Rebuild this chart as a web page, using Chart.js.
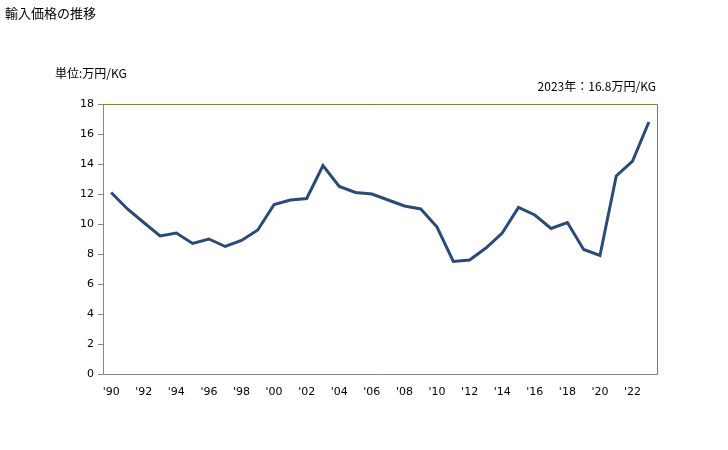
<!DOCTYPE html>
<html>
<head>
<meta charset="utf-8">
<script src="https://cdn.jsdelivr.net/npm/chart.js@4/dist/chart.umd.min.js"></script>
<style>
  html, body { margin: 0; padding: 0; background: #fff; }
  #wrap { position: relative; width: 728px; height: 450px; }
  canvas { position: absolute; left: 0; top: 0; }
  .txt { position: absolute; font-family: 'Noto Sans CJK JP', sans-serif; font-size: 12px; color: #000; white-space: nowrap; }
</style>
</head>
<body>
<div id="wrap">
  <canvas id="c" width="728" height="450"></canvas>
  <div class="txt" style="left:5px; top:3px; font-size:13px;">輸入価格の推移</div>
  <div class="txt" style="left:55px; top:64px;">単位:万円/KG</div>
  <div class="txt" style="right:72px; top:77px;">2023年：16.8万円/KG</div>
</div>
<script>
var years = [1990, 1991, 1992, 1993, 1994, 1995, 1996, 1997, 1998, 1999,
  2000, 2001, 2002, 2003, 2004, 2005, 2006, 2007, 2008, 2009,
  2010, 2011, 2012, 2013, 2014, 2015, 2016, 2017, 2018, 2019,
  2020, 2021, 2022, 2023];
var prices = [12.1, 11.0, 10.1, 9.2, 9.4, 8.7, 9.0, 8.5, 8.9, 9.6,
  11.3, 11.6, 11.7, 13.9, 12.5, 12.1, 12.0, 11.6, 11.2, 11.0,
  9.8, 7.5, 7.6, 8.4, 9.4, 11.1, 10.6, 9.7, 10.1, 8.3,
  7.9, 13.2, 14.2, 16.8];
var yTicks = [0, 2, 4, 6, 8, 10, 12, 14, 16, 18];

var frame = {
  id: 'frame',
  afterDraw: function(chart) {
    var a = chart.chartArea, ctx = chart.ctx;
    ctx.save();
    ctx.strokeStyle = '#8c7d3c';
    ctx.lineWidth = 1;
    ctx.beginPath();
    ctx.moveTo(a.left, a.top + 0.5);
    ctx.lineTo(a.right + 0.5, a.top + 0.5);
    ctx.lineTo(a.right + 0.5, a.bottom);
    ctx.stroke();
    ctx.restore();
  }
};

new Chart(document.getElementById('c'), {
  type: 'line',
  data: {
    labels: years,
    datasets: [{
      data: prices,
      borderColor: '#2b4a75',
      borderWidth: 3,
      pointRadius: 0,
      tension: 0,
      fill: false
    }]
  },
  options: {
    responsive: false,
    animation: false,
    layout: { padding: { left: 0, top: 104, right: 71, bottom: 0 } },
    plugins: { legend: { display: false }, tooltip: { enabled: false } },
    scales: {
      x: {
        offset: true,
        grid: { display: false },
        border: { display: true, color: '#888' },
        afterFit: function(s) { s.height = 76; },
        ticks: {
          autoSkip: false,
          maxRotation: 0,
          color: '#000',
          font: { family: 'DejaVu Sans', size: 11 },
          padding: 4,
          callback: function(v, i) {
            var y = years[i];
            return y % 2 === 0 ? "'" + String(y).slice(2) : '';
          }
        }
      },
      y: {
        min: 0,
        max: 18,
        afterFit: function(s) { s.width = 103; },
        afterBuildTicks: function(s) { s.ticks = yTicks.map(function(v) { return { value: v }; }); },
        grid: { drawOnChartArea: false, tickLength: 5, color: '#888' },
        border: { display: true, color: '#888' },
        ticks: {
          color: '#000',
          font: { family: 'DejaVu Sans', size: 11 },
          padding: 4
        }
      }
    }
  },
  plugins: [frame]
});
</script>
</body>
</html>
